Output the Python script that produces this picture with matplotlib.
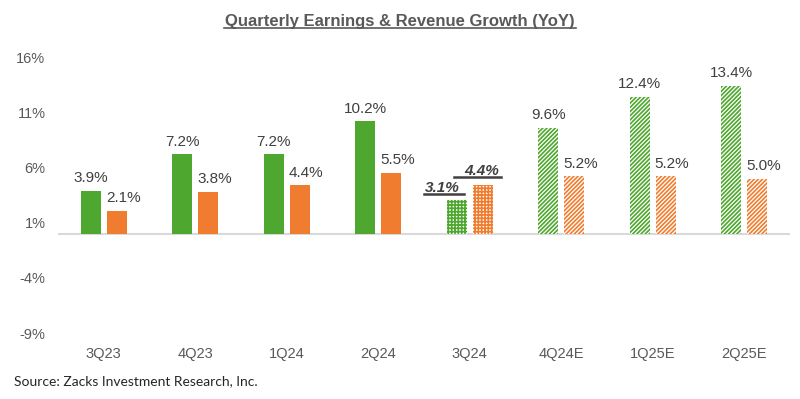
import numpy as np
import matplotlib.pyplot as plt
from matplotlib.lines import Line2D

quarters = ['3Q23', '4Q23', '1Q24', '2Q24', '3Q24', '4Q24E', '1Q25E', '2Q25E']
earnings = [3.9, 7.2, 7.2, 10.2, 3.1, 9.6, 12.4, 13.4]
revenue = [2.1, 3.8, 4.4, 5.5, 4.4, 5.2, 5.2, 5.0]
# 0 = reported, 1 = current (dotted), 2 = estimate (striped)
status = [0, 0, 0, 0, 1, 2, 2, 2]
yticks = [-9, -4, 1, 6, 11, 16]

green = '#4ea72e'
orange = '#f07d2f'
plt.rcParams['font.family'] = ['Liberation Sans', 'DejaVu Sans']
plt.rcParams['hatch.linewidth'] = 1.2

fig = plt.figure(figsize=(8, 3.99), dpi=100)
ax = fig.add_axes([0.0725, 0.165, 0.915, 0.692])

x = np.arange(len(quarters))
w = 0.22
off = 0.142
hatches = {1: '+++++', 2: '////////'}

for i in x:
    for val, col, dx in [(earnings[i], green, -off), (revenue[i], orange, off)]:
        if status[i] == 0:
            ax.bar(i + dx, val, w, color=col, linewidth=0)
        else:
            ax.bar(i + dx, val, w, facecolor='white', edgecolor=col,
                   hatch=hatches[status[i]], linewidth=0)

underlined = []  # (text, left pad, right pad)
for i in x:
    if status[i] == 1:
        t1 = ax.annotate(f'{earnings[i]}%', (i - off - 0.16, earnings[i]),
                         xytext=(0, 3), textcoords='offset points',
                         ha='center', va='bottom', fontsize=11,
                         fontweight='bold', fontstyle='italic', color='#404040')
        t2 = ax.annotate(f'{revenue[i]}%', (i + off - 0.01, revenue[i]),
                         xytext=(0, 5), textcoords='offset points',
                         ha='center', va='bottom', fontsize=11,
                         fontweight='bold', fontstyle='italic', color='#404040')
        underlined += [(t1, 1, 5), (t2, 10, 2)]
    else:
        ax.annotate(f'{earnings[i]}%', (i - off, earnings[i]),
                    xytext=(0, 4), textcoords='offset points',
                    ha='center', va='bottom', fontsize=11, color='#404040')
        ax.annotate(f'{revenue[i]}%', (i + off + 0.07, revenue[i]),
                    xytext=(0, 4), textcoords='offset points',
                    ha='center', va='bottom', fontsize=11, color='#404040')

ax.set_xlim(-0.5, len(quarters) - 0.5)
ax.set_ylim(-9, 16)
ax.set_yticks(yticks)
ax.set_yticklabels([f'{v}%' for v in yticks])
ax.set_xticks(x)
ax.set_xticklabels(quarters)
ax.tick_params(axis='both', length=0, labelsize=10.5, colors='#595959')
ax.tick_params(axis='y', pad=9)
ax.tick_params(axis='x', pad=10)
for s in ax.spines.values():
    s.set_visible(False)
ax.axhline(0, color='#d9d9d9', linewidth=1.5, zorder=0)

title = fig.text(0.5, 0.945, 'Quarterly Earnings & Revenue Growth (YoY)',
                 ha='center', va='center', fontsize=12, fontweight='bold',
                 color='#595959')
fig.text(0.018, 0.045, 'Source: Zacks Investment Research, Inc.',
         ha='left', va='center', fontsize=10, color='#262626', family='Lato')

# underline title and current-quarter labels
fig.canvas.draw()
r = fig.canvas.get_renderer()
W, H = fig.bbox.width, fig.bbox.height
for t, pl, pr, lw, c in [(title, 1, 1, 1.2, '#595959')] + [(t, a, b, 1.8, '#404040') for t, a, b in underlined]:
    bb = t.get_window_extent(r)
    y0 = (bb.y0 + 1) / H
    fig.add_artist(Line2D([(bb.x0 - pl) / W, (bb.x1 + pr) / W],
                          [y0, y0], color=c, linewidth=lw))

fig.savefig('out.png', dpi=100)
